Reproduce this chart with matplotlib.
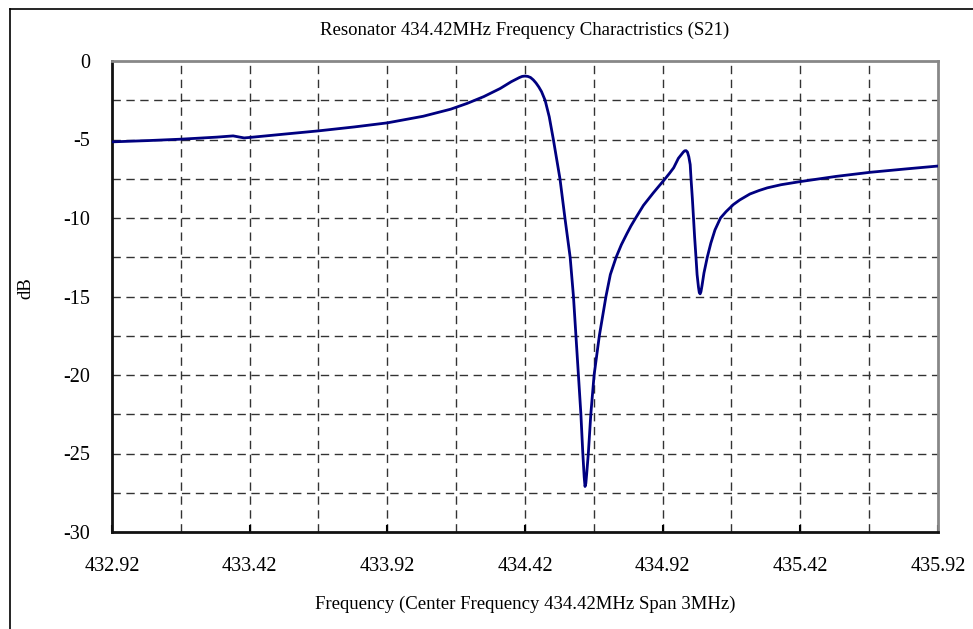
import matplotlib
matplotlib.use("Agg")
import matplotlib.pyplot as plt
from matplotlib.lines import Line2D

# ---- data ----
freq_mhz = [432.92, 433.05, 433.17, 433.30, 433.36, 433.40, 433.42, 433.55, 433.67,
            433.80, 433.92, 434.05, 434.15, 434.21, 434.27, 434.33, 434.37, 434.40,
            434.41, 434.42, 434.43, 434.44, 434.45, 434.46, 434.47, 434.48, 434.493,
            434.508, 434.523, 434.547, 434.565, 434.584, 434.596, 434.605, 434.614,
            434.623, 434.630, 434.635, 434.638, 434.641, 434.644, 434.650, 434.659,
            434.671, 434.690, 434.714, 434.73, 434.751, 434.77, 434.79, 434.805,
            434.822, 434.85, 434.886, 434.905, 434.929, 434.945, 434.96, 434.977,
            434.995, 435.000, 435.005, 435.010, 435.015, 435.020, 435.023, 435.028,
            435.032, 435.036, 435.041, 435.045, 435.050, 435.053, 435.056, 435.059,
            435.063, 435.070, 435.082, 435.095, 435.11, 435.13, 435.15, 435.177,
            435.20, 435.237, 435.27, 435.30, 435.35, 435.42, 435.55, 435.673, 435.80, 435.92]
s21_db = [-5.15, -5.07, -4.98, -4.85, -4.77, -4.90, -4.87, -4.65, -4.45,
          -4.20, -3.94, -3.52, -3.07, -2.70, -2.27, -1.75, -1.32, -1.05,
          -0.98, -0.96, -0.98, -1.05, -1.20, -1.40, -1.65, -1.95, -2.5,
          -3.55, -5.0, -7.5, -10.0, -12.5, -15.0, -17.5, -20.0,
          -22.5, -25.0, -26.5, -27.1, -26.9, -26.3, -25.0, -22.5,
          -20.0, -17.5, -15.0, -13.6, -12.5, -11.7, -11.0, -10.5,
          -10.0, -9.2, -8.4, -8.0, -7.5, -7.15, -6.8, -6.2,
          -5.8, -5.72, -5.71, -5.8, -6.1, -6.6, -7.5, -8.8,
          -10.0, -11.2, -12.5, -13.6, -14.4, -14.75, -14.83, -14.7,
          -14.3, -13.5, -12.5, -11.6, -10.76, -10.0, -9.6, -9.14,
          -8.85, -8.47, -8.25, -8.08, -7.88, -7.68, -7.35, -7.09, -6.88, -6.69]

x_ticks = [432.92, 433.42, 433.92, 434.42, 434.92, 435.42, 435.92]
x_tick_labels = ["432.92", "433.42", "433.92", "434.42", "434.92", "435.42", "435.92"]
y_ticks = [0, -5, -10, -15, -20, -25, -30]
y_tick_labels = ["0", "-5", "-10", "-15", "-20", "-25", "-30"]
x_grid = [433.17, 433.42, 433.67, 433.92, 434.17, 434.42, 434.67, 434.92, 435.17, 435.42, 435.67]
y_grid = [-2.5, -5, -7.5, -10, -12.5, -15, -17.5, -20, -22.5, -25, -27.5]

title = "Resonator 434.42MHz Frequency Charactristics (S21)"
x_label = "Frequency (Center Frequency 434.42MHz Span 3MHz)"
y_label = "dB"

W, H = 973, 629
plt.rcParams['font.family'] = ['Liberation Serif', 'DejaVu Serif']
fig = plt.figure(figsize=(W / 100, H / 100), dpi=100)
fig.patch.set_facecolor('white')

ax = fig.add_axes([112 / W, 1 - 532 / H, (938 - 112) / W, (532 - 61) / H])
ax.set_xlim(432.92, 435.92)
ax.set_ylim(-30, 0)

for gx in x_grid:
    ax.axvline(gx, color='#333333', lw=1.0, ls=(0, (6, 4)), zorder=1)
for gy in y_grid:
    ax.axhline(gy, color='#333333', lw=1.0, ls=(0, (6, 4)), zorder=1)

ax.plot(freq_mhz, s21_db, color='#000080', lw=2.0, zorder=3,
        solid_joinstyle='round', solid_capstyle='round')

ax.set_xticks(x_ticks)
ax.set_xticklabels(x_tick_labels)
ax.set_yticks(y_ticks)
ax.set_yticklabels(y_tick_labels)
ax.tick_params(axis='x', direction='in', length=5, width=1.5, pad=18, labelsize=14.5)
ax.tick_params(axis='y', direction='in', length=0, pad=16, labelsize=14.5)

for side in ['left', 'bottom']:
    ax.spines[side].set_color('#111111')
    ax.spines[side].set_linewidth(2.0)
for side in ['top', 'right']:
    ax.spines[side].set_color('#888888')
    ax.spines[side].set_linewidth(2.0)

fig.text(525 / W, 1 - 30 / H, title, ha='center', va='center', fontsize=13.5)
fig.text(525 / W, 1 - 604 / H, x_label, ha='center', va='center', fontsize=13.5)
fig.text(26 / W, 1 - 288 / H, y_label, ha='center', va='center', fontsize=13.5, rotation=90)

# outer frame (left and top edges visible)
fig.add_artist(Line2D([9.5 / W, 9.5 / W], [0, 1 - 8.5 / H], color='black', lw=1.2, transform=fig.transFigure))
fig.add_artist(Line2D([9.5 / W, 1], [1 - 8.5 / H, 1 - 8.5 / H], color='black', lw=1.2, transform=fig.transFigure))

fig.savefig("out.png", dpi=100)
